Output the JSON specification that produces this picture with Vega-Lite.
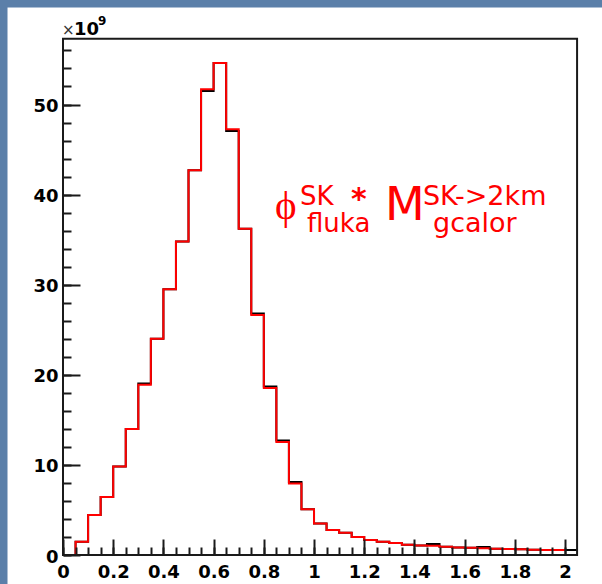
{
  "$schema": "https://vega.github.io/schema/vega-lite/v6.json",
  "width": 620,
  "height": 600,
  "autosize": {"type": "none"},
  "padding": 0,
  "background": "white",
  "config": {
    "view": {"fill": "white", "stroke": "#5b7fa9", "strokeWidth": 15},
    "font": "DejaVu Sans"
  },
  "data": {"values": [{}]},
  "datasets": {
    "black": [
      {"e": 0.00, "n": 0},
      {"e": 0.05, "n": 1.48},
      {"e": 0.10, "n": 4.44},
      {"e": 0.15, "n": 6.44},
      {"e": 0.20, "n": 9.84},
      {"e": 0.25, "n": 14.0},
      {"e": 0.30, "n": 19.05},
      {"e": 0.35, "n": 24.0},
      {"e": 0.40, "n": 29.5},
      {"e": 0.45, "n": 34.8},
      {"e": 0.50, "n": 42.7},
      {"e": 0.55, "n": 51.5},
      {"e": 0.60, "n": 54.6},
      {"e": 0.65, "n": 47.05},
      {"e": 0.70, "n": 36.2},
      {"e": 0.75, "n": 26.8},
      {"e": 0.80, "n": 18.7},
      {"e": 0.85, "n": 12.7},
      {"e": 0.90, "n": 8.1},
      {"e": 0.95, "n": 5.07},
      {"e": 1.00, "n": 3.5},
      {"e": 1.05, "n": 2.77},
      {"e": 1.10, "n": 2.48},
      {"e": 1.15, "n": 2.0},
      {"e": 1.20, "n": 1.66},
      {"e": 1.25, "n": 1.48},
      {"e": 1.30, "n": 1.33},
      {"e": 1.35, "n": 1.15},
      {"e": 1.40, "n": 1.07},
      {"e": 1.45, "n": 1.22},
      {"e": 1.50, "n": 0.92},
      {"e": 1.55, "n": 0.85},
      {"e": 1.60, "n": 0.81},
      {"e": 1.65, "n": 0.89},
      {"e": 1.70, "n": 0.70},
      {"e": 1.75, "n": 0.67},
      {"e": 1.80, "n": 0.63},
      {"e": 1.85, "n": 0.59},
      {"e": 1.90, "n": 0.55},
      {"e": 1.95, "n": 0.55},
      {"e": 2.00, "n": 0.55},
      {"e": 2.05, "n": 0.55}
    ],
    "red": [
      {"e": 0.00, "n": 0},
      {"e": 0.05, "n": 1.48},
      {"e": 0.10, "n": 4.44},
      {"e": 0.15, "n": 6.44},
      {"e": 0.20, "n": 9.84},
      {"e": 0.25, "n": 14.0},
      {"e": 0.30, "n": 18.9},
      {"e": 0.35, "n": 24.0},
      {"e": 0.40, "n": 29.5},
      {"e": 0.45, "n": 34.8},
      {"e": 0.50, "n": 42.7},
      {"e": 0.55, "n": 51.7},
      {"e": 0.60, "n": 54.6},
      {"e": 0.65, "n": 47.25},
      {"e": 0.70, "n": 36.2},
      {"e": 0.75, "n": 26.65},
      {"e": 0.80, "n": 18.55},
      {"e": 0.85, "n": 12.55},
      {"e": 0.90, "n": 7.95},
      {"e": 0.95, "n": 5.07},
      {"e": 1.00, "n": 3.5},
      {"e": 1.05, "n": 2.77},
      {"e": 1.10, "n": 2.48},
      {"e": 1.15, "n": 2.0},
      {"e": 1.20, "n": 1.66},
      {"e": 1.25, "n": 1.48},
      {"e": 1.30, "n": 1.33},
      {"e": 1.35, "n": 1.15},
      {"e": 1.40, "n": 1.07},
      {"e": 1.45, "n": 1.03},
      {"e": 1.50, "n": 0.92},
      {"e": 1.55, "n": 0.85},
      {"e": 1.60, "n": 0.81},
      {"e": 1.65, "n": 0.74},
      {"e": 1.70, "n": 0.70},
      {"e": 1.75, "n": 0.67},
      {"e": 1.80, "n": 0.63},
      {"e": 1.85, "n": 0.59},
      {"e": 1.90, "n": 0.55},
      {"e": 1.95, "n": 0.55},
      {"e": 2.00, "n": 0.55}
    ]
  },
  "resolve": {"axis": {"x": "independent", "y": "independent"}},
  "layer": [
    {
      "data": {"name": "black"},
      "mark": {"type": "line", "interpolate": "step-after", "color": "black", "strokeWidth": 2},
      "encoding": {
        "x": {
          "field": "e", "type": "quantitative",
          "scale": {"domain": [-0.251, 2.219], "nice": false, "zero": false},
          "axis": {
            "orient": "bottom", "offset": -45, "domain": false, "grid": false, "labels": false, "title": null, "zindex": 1,
            "values": [0,0.05,0.1,0.15,0.2,0.25,0.3,0.35,0.4,0.45,0.5,0.55,0.6,0.65,0.7,0.75,0.8,0.85,0.9,0.95,1,1.05,1.1,1.15,1.2,1.25,1.3,1.35,1.4,1.45,1.5,1.55,1.6,1.65,1.7,1.75,1.8,1.85,1.9,1.95,2],
            "tickSize": -8, "tickWidth": 2, "tickColor": "#1a1a1a"
          }
        },
        "y": {
          "field": "n", "type": "quantitative",
          "scale": {"domain": [-4.99, 61.6], "nice": false, "zero": false},
          "axis": {
            "orient": "left", "offset": -63, "domain": false, "grid": false, "labels": false, "title": null, "zindex": 1,
            "values": [0,2,4,6,8,10,12,14,16,18,20,22,24,26,28,30,32,34,36,38,40,42,44,46,48,50,52,54,56],
            "tickSize": -8, "tickWidth": 2, "tickColor": "#1a1a1a"
          }
        }
      }
    },
    {
      "data": {"name": "red"},
      "mark": {"type": "line", "interpolate": "step-after", "color": "#ff0000", "strokeWidth": 2},
      "encoding": {
        "x": {
          "field": "e", "type": "quantitative",
          "axis": {
            "orient": "bottom", "offset": -45, "domain": false, "grid": false, "title": null, "zindex": 1,
            "values": [0,0.2,0.4,0.6,0.8,1,1.2,1.4,1.6,1.8,2],
            "format": "~g",
            "tickSize": -16, "tickWidth": 2, "tickColor": "#1a1a1a",
            "labelPadding": 24, "labelFont": "DejaVu Sans", "labelFontWeight": "bold",
            "labelFontSize": 18, "labelColor": "black", "labelFlush": false, "labelOverlap": false
          }
        },
        "y": {
          "field": "n", "type": "quantitative",
          "axis": {
            "orient": "left", "offset": -63, "domain": false, "grid": false, "title": null, "zindex": 1,
            "values": [0,10,20,30,40,50],
            "tickSize": -17, "tickWidth": 2, "tickColor": "#1a1a1a",
            "labelPadding": 22, "labelOffset": 2, "labelFont": "DejaVu Sans", "labelFontWeight": "bold",
            "labelFontSize": 18, "labelColor": "black", "labelFlush": false, "labelOverlap": false
          }
        }
      }
    },
    {
      "mark": {"type": "rect", "fill": "transparent", "stroke": "#1a1a1a", "strokeWidth": 2},
      "encoding": {
        "x": {"datum": 0, "type": "quantitative", "axis": null},
        "x2": {"datum": 2.048},
        "y": {"datum": 0, "type": "quantitative", "axis": null},
        "y2": {"datum": 57.3}
      }
    },
    {
      "mark": {"type": "text", "text": "×", "font": "DejaVu Sans", "fontSize": 15, "color": "#333333", "align": "left", "baseline": "alphabetic", "dx": -1},
      "encoding": {
        "x": {"datum": 0, "type": "quantitative", "axis": null},
        "y": {"datum": 57.7, "type": "quantitative", "axis": null}
      }
    },
    {
      "mark": {"type": "text", "text": "10", "font": "DejaVu Sans", "fontWeight": "bold", "fontSize": 18, "color": "black", "align": "left", "baseline": "alphabetic", "dx": 11},
      "encoding": {
        "x": {"datum": 0, "type": "quantitative", "axis": null},
        "y": {"datum": 57.7, "type": "quantitative", "axis": null}
      }
    },
    {
      "mark": {"type": "text", "text": "9", "font": "DejaVu Sans", "fontWeight": "bold", "fontSize": 12, "color": "black", "align": "left", "baseline": "alphabetic", "dx": 35, "dy": -10},
      "encoding": {
        "x": {"datum": 0, "type": "quantitative", "axis": null},
        "y": {"datum": 57.7, "type": "quantitative", "axis": null}
      }
    },
    {
      "mark": {"type": "text", "text": "ϕ", "font": "Liberation Serif", "fontSize": 41, "color": "#ff0000", "align": "left", "baseline": "alphabetic"},
      "encoding": {
        "x": {"datum": 0.845, "type": "quantitative", "axis": null},
        "y": {"datum": 37.3, "type": "quantitative", "axis": null}
      }
    },
    {
      "mark": {"type": "text", "text": "SK", "font": "DejaVu Sans", "fontSize": 26, "color": "#ff0000", "align": "left", "baseline": "alphabetic"},
      "encoding": {
        "x": {"datum": 0.944, "type": "quantitative", "axis": null},
        "y": {"datum": 38.85, "type": "quantitative", "axis": null}
      }
    },
    {
      "mark": {"type": "text", "text": "*", "font": "DejaVu Sans", "fontWeight": "bold", "fontSize": 30, "color": "#ff0000", "align": "left", "baseline": "alphabetic"},
      "encoding": {
        "x": {"datum": 1.147, "type": "quantitative", "axis": null},
        "y": {"datum": 38.4, "type": "quantitative", "axis": null}
      }
    },
    {
      "mark": {"type": "text", "text": "fluka", "font": "DejaVu Sans", "fontSize": 26, "color": "#ff0000", "align": "left", "baseline": "alphabetic"},
      "encoding": {
        "x": {"datum": 0.972, "type": "quantitative", "axis": null},
        "y": {"datum": 35.85, "type": "quantitative", "axis": null}
      }
    },
    {
      "mark": {"type": "text", "text": "M", "font": "DejaVu Sans", "fontSize": 46, "color": "#ff0000", "align": "left", "baseline": "alphabetic"},
      "encoding": {
        "x": {"datum": 1.283, "type": "quantitative", "axis": null},
        "y": {"datum": 37.18, "type": "quantitative", "axis": null}
      }
    },
    {
      "mark": {"type": "text", "text": "SK->2km", "font": "DejaVu Sans", "fontSize": 27, "color": "#ff0000", "align": "left", "baseline": "alphabetic"},
      "encoding": {
        "x": {"datum": 1.434, "type": "quantitative", "axis": null},
        "y": {"datum": 38.85, "type": "quantitative", "axis": null}
      }
    },
    {
      "mark": {"type": "text", "text": "gcalor", "font": "DejaVu Sans", "fontSize": 27, "color": "#ff0000", "align": "left", "baseline": "alphabetic"},
      "encoding": {
        "x": {"datum": 1.474, "type": "quantitative", "axis": null},
        "y": {"datum": 35.85, "type": "quantitative", "axis": null}
      }
    }
  ]
}
